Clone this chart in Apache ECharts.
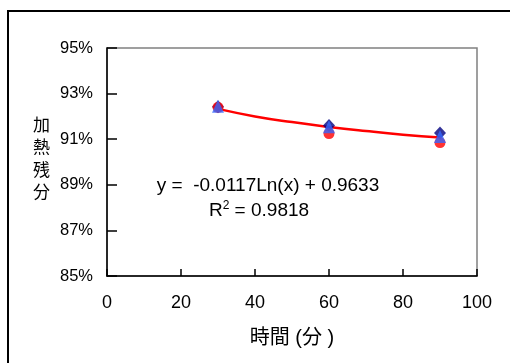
<!DOCTYPE html>
<html><head><meta charset="utf-8">
<script src="https://cdn.jsdelivr.net/npm/echarts@6/dist/echarts.min.js"></script>
<style>html,body{margin:0;padding:0;background:#fff}#c{width:510px;height:363px}</style>
</head><body><div id="c"></div>
<script>
const xValues = [30, 60, 90];
const seriesDiamond = [92.42, 91.6, 91.27];
const seriesTriangle = [92.45, 91.55, 91.12];
const seriesCircle = [92.4, 91.25, 90.85];
const trendX = [30, 40, 50, 60, 70, 80, 90];
const trendY = [92.33, 92.0, 91.75, 91.54, 91.36, 91.2, 91.07];
const yTicks = ['85%', '87%', '89%', '91%', '93%', '95%'];
const yBase = 85;
const xAxisName = '時間 (分 )';
const yAxisName = '加熱残分';
const eqText = 'y =  -0.0117Ln(x) + 0.9633';
const r2Value = '0.9818';

const font = '"Liberation Sans", Arial, sans-serif';
const cjk = '"Liberation Sans", "Noto Sans CJK JP", sans-serif';
const pts = (ys) => xValues.map((x, i) => [x, ys[i] - yBase]);

const chart = echarts.init(document.getElementById('c'), null, {renderer: 'canvas'});
chart.setOption({
  animation: false,
  backgroundColor: '#fff',
  grid: {left: 107, right: 33, top: 48, bottom: 87, show: true, borderColor: '#808080', borderWidth: 1.5},
  xAxis: {
    type: 'value', min: 0, max: 100, interval: 20,
    name: xAxisName, nameLocation: 'middle', nameGap: 52,
    nameTextStyle: {fontFamily: cjk, fontSize: 20, color: '#000'},
    axisLine: {show: true, onZero: false, lineStyle: {color: '#000', width: 1.5}},
    axisTick: {show: true, inside: true, length: 7, lineStyle: {color: '#000', width: 1.5}},
    axisLabel: {fontFamily: font, fontSize: 18, color: '#000', margin: 18},
    splitLine: {show: false}
  },
  yAxis: {
    type: 'value', min: 0, max: 10, interval: 2,
    axisLine: {show: true, onZero: false, lineStyle: {color: '#000', width: 1.5}},
    axisTick: {show: true, inside: true, length: 10, lineStyle: {color: '#000', width: 1.5}},
    axisLabel: {fontFamily: font, fontSize: 16.5, color: '#000', margin: 14,
      formatter: (v) => yTicks[Math.round(v / 2)]},
    splitLine: {show: false}
  },
  series: [
    {type: 'line', data: trendX.map((x, i) => [x, trendY[i] - yBase]), smooth: true, showSymbol: false,
      lineStyle: {color: '#ff0000', width: 2.5}, z: 1},
    {type: 'scatter', data: pts(seriesDiamond), symbol: 'diamond', symbolSize: [12, 13],
      itemStyle: {color: '#000080'}, z: 2},
    {type: 'scatter', data: pts(seriesCircle), symbol: 'circle', symbolSize: 11,
      itemStyle: {color: '#ff0000'}, z: 3},
    {type: 'scatter', data: pts(seriesTriangle), symbol: 'triangle', symbolSize: [12, 13],
      itemStyle: {color: '#3366ff'}, z: 4}
  ],
  graphic: [
    {type: 'rect', shape: {x: 8, y: 11, width: 520, height: 380},
      style: {fill: 'none', stroke: '#000', lineWidth: 2}, silent: true},
    {type: 'text', left: 33, top: 115,
      style: {text: yAxisName.split('').join('\n'), fontFamily: cjk, fontSize: 17, lineHeight: 22.5, fill: '#000', align: 'left'}},
    {type: 'text', x: 268, y: 186,
      style: {text: eqText, fontFamily: font, fontSize: 19, fill: '#000', align: 'center', verticalAlign: 'middle'}},
    {type: 'text', x: 259, y: 211,
      style: {text: 'R{s|2} = ' + r2Value, fontFamily: font, fontSize: 19, fill: '#000', align: 'center', verticalAlign: 'middle',
        rich: {s: {fontFamily: font, fontSize: 12, verticalAlign: 'top', padding: [0, 0, 10, 0]}}}}
  ]
});
</script></body></html>
